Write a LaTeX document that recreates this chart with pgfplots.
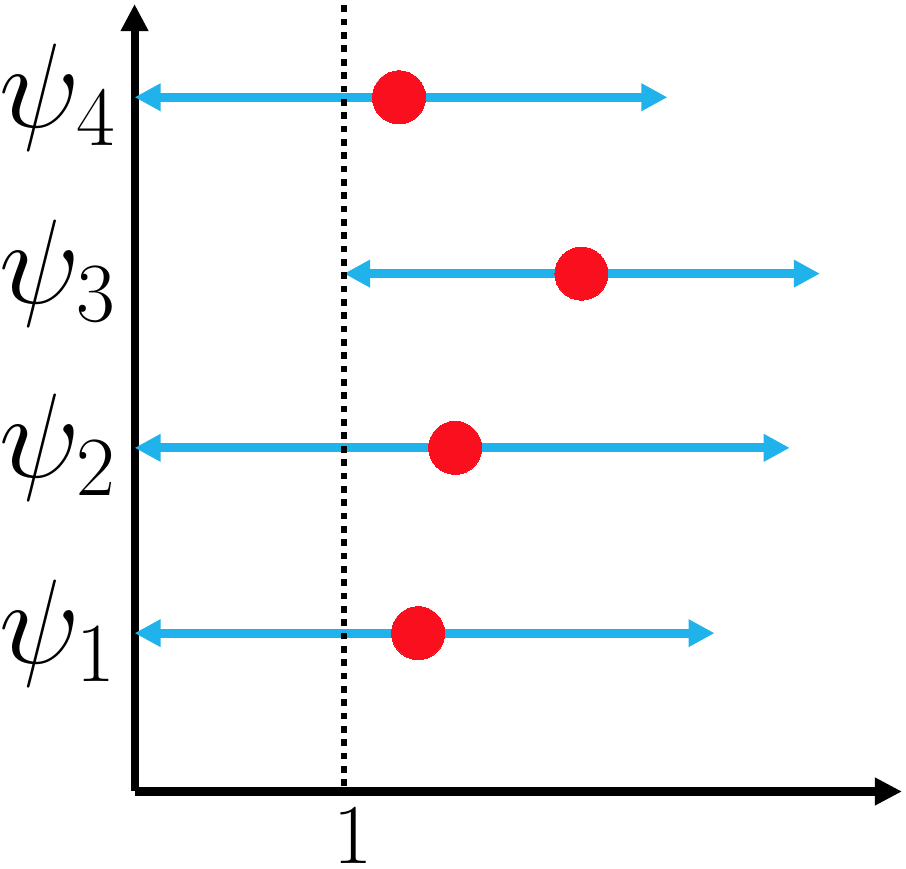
\RequirePackage{fix-cm}
\documentclass[border=0pt]{standalone}
\usepackage{pgfplots}
\pgfplotsset{compat=1.18}
\usetikzlibrary{arrows.meta}
\definecolor{cblue}{RGB}{32,178,234}
\definecolor{cred}{RGB}{250,15,30}
\begin{document}
\begin{tikzpicture}
\begin{axis}[
  scale only axis,
  width=383pt, height=393pt,
  xmin=0, xmax=3.665, ymin=0, ymax=4.416,
  axis lines=left,
  axis line style={line width=4pt, -{Triangle[length=13.5pt,width=13pt]}},
  xtick={1}, xticklabels={$1$},
  ytick={0.888,1.927,2.904,3.893},
  yticklabels={$\psi_1$,$\psi_2$,$\psi_3$,$\psi_4$},
  major tick length=0pt,
  tick style={draw=none},
  x tick label style={font=\fontsize{42.5}{50}\selectfont, inner sep=0pt, anchor=north, xshift=4.5pt, text depth=2.5pt},
  y tick label style={font=\fontsize{60}{70}\selectfont, inner sep=0pt, anchor=east},
  xticklabel shift=8.5pt,
  yticklabel shift=9pt,
  clip=false,
]
\addplot[cblue, line width=4.5pt, no markers, {Triangle[length=13pt,width=13pt]}-{Triangle[length=13pt,width=13pt]}] coordinates {(0,3.893) (2.545,3.893)};
\addplot[cblue, line width=4.5pt, no markers, {Triangle[length=13pt,width=13pt]}-{Triangle[length=13pt,width=13pt]}] coordinates {(1,2.904) (3.273,2.904)};
\addplot[cblue, line width=4.5pt, no markers, {Triangle[length=13pt,width=13pt]}-{Triangle[length=13pt,width=13pt]}] coordinates {(0,1.927) (3.129,1.927)};
\addplot[cblue, line width=4.5pt, no markers, {Triangle[length=13pt,width=13pt]}-{Triangle[length=13pt,width=13pt]}] coordinates {(0,0.888) (2.770,0.888)};
\addplot[black, line width=3.33pt, no markers, dash pattern=on 3.33pt off 3.33pt] coordinates {(1,0.03) (1,4.41)};
\addplot[cred, only marks, mark=*, mark size=13.25pt, mark options={fill=cred, draw=cred, line width=0pt}] coordinates {(1.263,3.893) (2.134,2.904) (1.531,1.927) (1.354,0.888)};
\end{axis}
\end{tikzpicture}
\end{document}
